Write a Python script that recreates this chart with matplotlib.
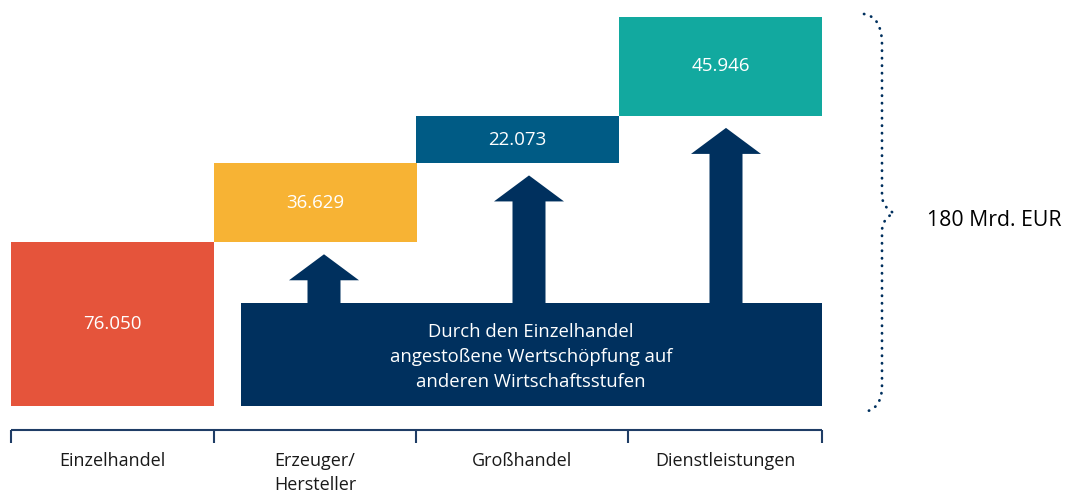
import matplotlib.pyplot as plt
from matplotlib.patches import Polygon, PathPatch
from matplotlib.path import Path

# data
categories = ['Einzelhandel', 'Erzeuger/\nHersteller', 'Großhandel', 'Dienstleistungen']
values = [76.050, 36.629, 22.073, 45.946]
value_labels = ['76.050', '36.629', '22.073', '45.946']
total_label = '180 Mrd. EUR'
block_text = 'Durch den Einzelhandel\nangestoßene Wertschöpfung auf\nanderen Wirtschaftsstufen'

colors = ['#E5543B', '#F7B334', '#005B85', '#12A99F']
navy = '#00305E'

plt.rcParams['font.family'] = ['Open Sans', 'DejaVu Sans']

fig = plt.figure(figsize=(10.66, 4.97), dpi=100)
ax = fig.add_axes([0, 0, 1, 1])
ax.axis('off')

total = sum(values)
px = 389 / total            # pixels per unit, bar stack spans 389 px
base_px = 406               # pixel row of value 0


def yv(p):
    # pixel row -> value units (layout helper)
    return (base_px - p) / px


ax.set_xlim(0, 1066)
ax.set_ylim(yv(497), yv(0))

# stacked waterfall bars
bar_left = [11, 214, 416, 619]
bar_width = 203
bottoms = [0]
for v in values[:-1]:
    bottoms.append(bottoms[-1] + v)
ax.bar(bar_left, values, width=bar_width, bottom=bottoms, align='edge',
       color=colors, linewidth=0)
for x, b, v, lab in zip(bar_left, bottoms, values, value_labels):
    ax.text(x + bar_width / 2, b + v / 2, lab, ha='center', va='center',
            color='white', fontsize=13.5)

# navy block
block_h = 103 / px
ax.bar(241, block_h, width=581, bottom=0, align='edge', color=navy, linewidth=0)
ax.text(531, yv(357), block_text, ha='center', va='center', color='white',
        fontsize=13.3, linespacing=1.5)

# arrows pointing to the upstream bars
arrow_x = [324, 529, 726]
gap = 12 / px
head_h = 26 / px
head_w = 70
shaft_w = 33
for cx, b in zip(arrow_x, bottoms[1:]):
    tip = b - gap
    hb = tip - head_h
    pts = [(cx - shaft_w / 2, block_h), (cx - shaft_w / 2, hb), (cx - head_w / 2, hb),
           (cx, tip), (cx + head_w / 2, hb), (cx + shaft_w / 2, hb),
           (cx + shaft_w / 2, block_h)]
    ax.add_patch(Polygon(pts, closed=True, color=navy, linewidth=0))

# bottom axis with ticks
tick_x = [11, 214, 416, 628, 822]
y_axis = yv(430)
ax.plot([tick_x[0], tick_x[-1]], [y_axis, y_axis], color='#1F3D66', lw=1.5,
        solid_capstyle='butt')
ax.vlines(tick_x, yv(443), y_axis, color='#1F3D66', lw=1.5)
for i, cat in enumerate(categories):
    ax.text((tick_x[i] + tick_x[i + 1]) / 2, yv(452), cat, ha='center', va='top',
            fontsize=13, color='#1a1a1a', linespacing=1.42)

# dotted curly brace over the total
bx, tx = 882, 894
verts = [(864, yv(14)), (876, yv(16)), (bx, yv(26)), (bx, yv(45)),
         (bx, yv(195)),
         (bx, yv(205)), (tx - 5, yv(211)), (tx, yv(213)),
         (tx - 5, yv(215)), (bx, yv(221)), (bx, yv(231)),
         (bx, yv(385)),
         (bx, yv(402)), (876, yv(410)), (864, yv(412))]
codes = [Path.MOVETO, Path.CURVE4, Path.CURVE4, Path.CURVE4,
         Path.LINETO,
         Path.CURVE4, Path.CURVE4, Path.CURVE4,
         Path.CURVE4, Path.CURVE4, Path.CURVE4,
         Path.LINETO,
         Path.CURVE4, Path.CURVE4, Path.CURVE4]
ax.add_patch(PathPatch(Path(verts, codes), fill=False, edgecolor=navy, lw=2,
                       linestyle=(0, (0.1, 2.6)), capstyle='round'))
ax.text(927, yv(220), total_label, ha='left', va='center', fontsize=15.3, color='black')

fig.savefig('out.png', dpi=100)
